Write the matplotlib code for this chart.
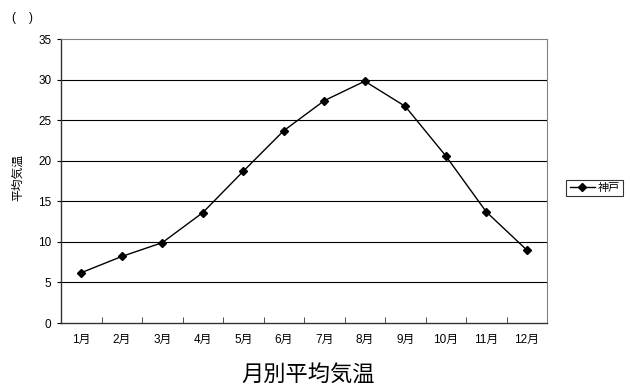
import matplotlib
matplotlib.use("Agg")
import matplotlib.pyplot as plt
import numpy as np

plt.rcParams['font.family'] = ['Liberation Sans', 'Noto Sans CJK JP', 'DejaVu Sans']

months = ['1月', '2月', '3月', '4月', '5月', '6月',
          '7月', '8月', '9月', '10月', '11月', '12月']
kobe = [6.2, 8.2, 9.9, 13.6, 18.7, 23.7, 27.4, 29.8, 26.7, 20.6, 13.7, 9.0]
yticks = [0, 5, 10, 15, 20, 25, 30, 35]

fig = plt.figure(figsize=(6.3, 3.88), dpi=100)
ax = fig.add_axes([61 / 630, 65 / 388, 486 / 630, 284 / 388])

x = np.arange(len(months))
ax.plot(x, kobe, color='black', lw=1, marker='D', ms=4.5, label='神戸')

ax.set_xlim(-0.5, len(months) - 0.5)
ax.set_ylim(0, 35)
ax.set_yticks(yticks)
for v in yticks[1:-1]:
    ax.axhline(v, color='black', lw=0.8, zorder=0)

ax.set_xticks(x)
ax.set_xticklabels(months, fontsize=8.5)
ax.tick_params(axis='x', length=0, pad=8)
ax.set_xticks(x[:-1] + 0.5, minor=True)
ax.tick_params(axis='x', which='minor', direction='in', length=4, color='#333333')
ax.tick_params(axis='y', labelsize=8.5, length=3, direction='out', pad=4)

for side in ['top', 'right']:
    ax.spines[side].set_color('#808080')
    ax.spines[side].set_linewidth(0.8)
for side in ['left', 'bottom']:
    ax.spines[side].set_color('#333333')
    ax.spines[side].set_linewidth(1.0)

fig.text(18 / 630, 1 - 178 / 388, '平均気温', rotation=90, fontsize=8.5,
         ha='center', va='center')
fig.text(22 / 630, 1 - 18 / 388, '(    )', fontsize=8.5, ha='center', va='center')
fig.text(308 / 630, 1 - 376 / 388, '月別平均気温', fontsize=16, ha='center', va='center')

leg = fig.legend(loc='center left', bbox_to_anchor=(564 / 630, 1 - 188 / 388),
                 fontsize=8, frameon=True, fancybox=False, handlelength=2.3,
                 borderpad=0.3, handletextpad=0.2, borderaxespad=0.2)
leg.get_frame().set_edgecolor('black')
leg.get_frame().set_linewidth(0.8)

fig.savefig('out.png', dpi=100)
